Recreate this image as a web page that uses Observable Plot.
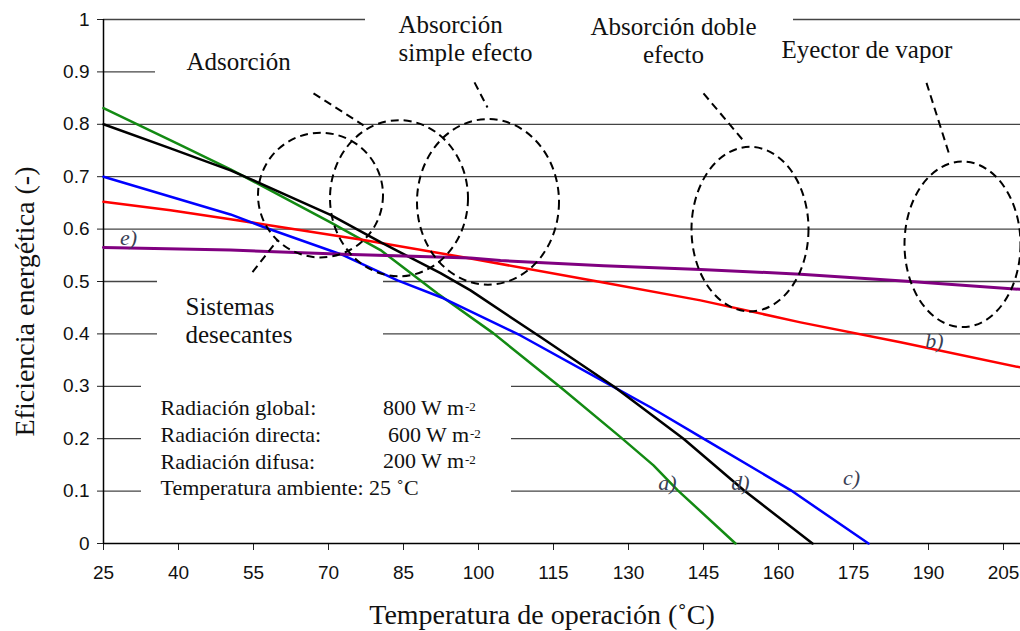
<!DOCTYPE html>
<html>
<head>
<meta charset="utf-8">
<script src="https://cdn.jsdelivr.net/npm/d3@7"></script>
<script src="https://cdn.jsdelivr.net/npm/@observablehq/plot@0.6"></script>
<style>
  html, body { margin: 0; padding: 0; background: #fff; }
  #chart svg { display: block; }
</style>
</head>
<body>
<div id="chart"></div>
<script>
// ---- Data ----
// a) green
const tempA = [25, 40, 50.4, 56.4, 70.4, 80.4, 91.8, 103, 116.4, 128.4, 135, 139.8, 151.4];
const effA  = [0.831, 0.762, 0.714, 0.684, 0.613, 0.56, 0.477, 0.401, 0.298, 0.203, 0.149, 0.102, 0];
// b) red
const tempB = [25, 38.4, 50.4, 57.8, 77, 98.4, 124.4, 144.4, 164.4, 184.4, 208.4];
const effB  = [0.652, 0.636, 0.619, 0.608, 0.579, 0.544, 0.499, 0.464, 0.422, 0.384, 0.336];
// c) blue
const tempC = [25, 50.4, 57, 73, 83.8, 93, 108.4, 127, 134.4, 145, 162.4, 178];
const effC  = [0.70, 0.628, 0.604, 0.55, 0.502, 0.468, 0.397, 0.299, 0.26, 0.20, 0.102, 0];
// d) black
const tempD = [25, 38.4, 50.4, 55, 70.4, 80.4, 92.4, 98.4, 112.4, 127, 141, 153, 166.8];
const effD  = [0.80, 0.754, 0.712, 0.693, 0.627, 0.575, 0.516, 0.483, 0.394, 0.300, 0.20, 0.102, 0];
// e) purple
const tempE = [25, 50.4, 73, 98.4, 104.4, 125, 144.4, 164.4, 186.4, 208.4];
const effE  = [0.565, 0.560, 0.552, 0.545, 0.540, 0.530, 0.523, 0.514, 0.500, 0.485];

const seriesNames  = ["a", "b", "c", "d", "e"];
const seriesColors = ["#138a13", "#ff0000", "#0000ff", "#000000", "#800080"];

const xTicks = [25, 40, 55, 70, 85, 100, 115, 130, 145, 160, 175, 190, 205];
const yTicks = [0, 0.1, 0.2, 0.3, 0.4, 0.5, 0.6, 0.7, 0.8, 0.9, 1];
const gridVals = [0.1, 0.2, 0.3, 0.4, 0.5, 0.6, 0.7, 0.8, 0.9, 1];

// Series end labels
const labelText = ["a)", "b)", "c)", "d)", "e)"];
const labelT    = [137.8, 191.2, 174.6, 152.4, 30];
const labelE    = [0.1017, 0.3727, 0.111, 0.1017, 0.569];

// Dashed ellipses (technology regions): centre and radii in data units
const ellT  = [68.5, 84.2, 102, 154.4, 196.9];
const ellE  = [0.664, 0.658, 0.651, 0.599, 0.570];
const ellRT = [12.5, 13.8, 14.2, 11.7, 11.6];
const ellRE = [0.119, 0.149, 0.158, 0.157, 0.158];

// Dashed leader lines
const leadT1 = [67, 99.2, 145, 189.6, 54.8];
const leadE1 = [0.859, 0.880, 0.859, 0.879, 0.518];
const leadT2 = [77, 101.8, 153.4, 194.2, 59.8];
const leadE2 = [0.798, 0.832, 0.764, 0.741, 0.579];

// Text boxes (white background behind annotations, as in the original)
const boxT1 = [35.4, 77.4, 119.4, 163, 35.8, 32.6];
const boxT2 = [77.4, 119.4, 163, 210, 81, 106.6];
const boxE1 = [0.846, 0.855, 0.855, 0.855, 0.36, 0.064];
const boxE2 = [0.970, 1.05, 1.05, 0.98, 0.537, 0.33];

// ---- Build tables ----
const allT = [tempA, tempB, tempC, tempD, tempE];
const allE = [effA, effB, effC, effD, effE];
const rows = [];
seriesNames.forEach((s, k) => allT[k].forEach((t, i) => rows.push({serie: s, t, e: allE[k][i]})));
const labels = labelText.map((txt, i) => ({txt, t: labelT[i], e: labelE[i]}));
const leaders = leadT1.map((t, i) => ({t1: t, e1: leadE1[i], t2: leadT2[i], e2: leadE2[i]}));
const boxes = boxT1.map((t, i) => ({t1: t, t2: boxT2[i], e1: boxE1[i], e2: boxE2[i]}));

const serif = "Liberation Serif";

function ellipseMark(index, scales) {
  const g = d3.create("svg:g")
    .attr("fill", "none")
    .attr("stroke", "#000")
    .attr("stroke-width", 2)
    .attr("stroke-dasharray", "8,5");
  ellT.forEach((t, i) => {
    const cx = scales.x(t), cy = scales.y(ellE[i]);
    const rx = Math.abs(scales.x(t + ellRT[i]) - cx);
    const ry = Math.abs(scales.y(ellE[i] + ellRE[i]) - cy);
    g.append("ellipse").attr("cx", cx).attr("cy", cy).attr("rx", rx).attr("ry", ry);
  });
  return g.node();
}

const chart = Plot.plot({
  width: 1020,
  height: 631,
  marginLeft: 103,
  marginRight: 0,
  marginTop: 19,
  marginBottom: 88,
  style: {background: "#fff", color: "#111", overflow: "visible"},
  x: {domain: [25, 208.4]},
  y: {domain: [0, 1]},
  color: {domain: seriesNames, range: seriesColors},
  marks: [
    Plot.ruleY(gridVals, {stroke: "#444", strokeWidth: 1.3}),
    Plot.rect(boxes, {x1: "t1", x2: "t2", y1: "e1", y2: "e2", fill: "#fff"}),
    Plot.axisX({ticks: xTicks, tickSize: 7, tickPadding: 15, fontSize: 19, fontFamily: "Liberation Sans", label: null, stroke: "#222", tickFormat: d => String(d)}),
    Plot.axisY({ticks: yTicks, tickSize: 6, tickPadding: 8, fontSize: 19, fontFamily: "Liberation Sans", label: null, stroke: "#222", tickFormat: d => String(d)}),
    Plot.ruleX([25], {stroke: "#000", strokeWidth: 1.5}),
    Plot.ruleY([0], {stroke: "#000", strokeWidth: 1.5}),
    Plot.line(rows, {x: "t", y: "e", z: "serie", stroke: "serie", strokeWidth: d => d.serie === "e" ? 3 : 2.5, strokeLinejoin: "round"}),
    ellipseMark,
    Plot.link(leaders, {x1: "t1", y1: "e1", x2: "t2", y2: "e2", stroke: "#000", strokeWidth: 2, strokeDasharray: "8,5"}),
    // Series labels
    Plot.text(labels, {x: "t", y: "e", text: "txt", lineAnchor: "bottom", fontSize: 22, fontStyle: "italic", fontFamily: serif, fill: "#3a3f55"}),
    // Technology annotations
    Plot.text(["Adsorción"], {x: 41.6, y: 0.9033, textAnchor: "start", lineAnchor: "bottom", fontSize: 25, fontFamily: serif, fill: "#111"}),
    Plot.text(["Absorción\nsimple efecto"], {x: 84, y: 0.9204, textAnchor: "start", lineAnchor: "bottom", lineHeight: 1.12, fontSize: 25, fontFamily: serif, fill: "#111"}),
    Plot.text(["Absorción doble\nefecto"], {x: 139, y: 0.9166, textAnchor: "middle", lineAnchor: "bottom", lineHeight: 1.12, fontSize: 25, fontFamily: serif, fill: "#111"}),
    Plot.text(["Eyector de vapor"], {x: 160.6, y: 0.9256, textAnchor: "start", lineAnchor: "bottom", fontSize: 25, fontFamily: serif, fill: "#111"}),
    Plot.text(["Sistemas\ndesecantes"], {x: 41.4, y: 0.3822, textAnchor: "start", lineAnchor: "bottom", lineHeight: 1.12, fontSize: 25, fontFamily: serif, fill: "#111"}),
    // Conditions block
    Plot.text(["Radiación global:\nRadiación directa:\nRadiación difusa:\nTemperatura ambiente: 25 ˚C"], {x: 36.4, y: 0.0922, textAnchor: "start", lineAnchor: "bottom", lineHeight: 1.212, fontSize: 22, fontFamily: serif, fill: "#111"}),
    Plot.text(["800 W m", "600 W m", "200 W m"], {x: [97.1, 98.1, 97.1], y: [0.245, 0.1933, 0.1437], textAnchor: "end", lineAnchor: "bottom", fontSize: 22, fontFamily: serif, fill: "#111"}),
    Plot.text(["-2", "-2", "-2"], {x: [97.3, 98.3, 97.3], y: [0.2525, 0.201, 0.151], textAnchor: "start", lineAnchor: "bottom", fontSize: 13, fontFamily: serif, fill: "#111"}),
    // Axis titles
    Plot.text(["Temperatura de operación (˚C)"], {frameAnchor: "bottom", lineAnchor: "bottom", dx: -20, dy: 80, fontSize: 28, fontFamily: serif, fill: "#111"}),
    Plot.text(["Eficiencia energética (-)"], {frameAnchor: "left", textAnchor: "middle", rotate: -90, dx: -78, dy: 20, fontSize: 28, fontFamily: serif, fill: "#111"})
  ]
});
document.getElementById("chart").appendChild(chart);
</script>
</body>
</html>
